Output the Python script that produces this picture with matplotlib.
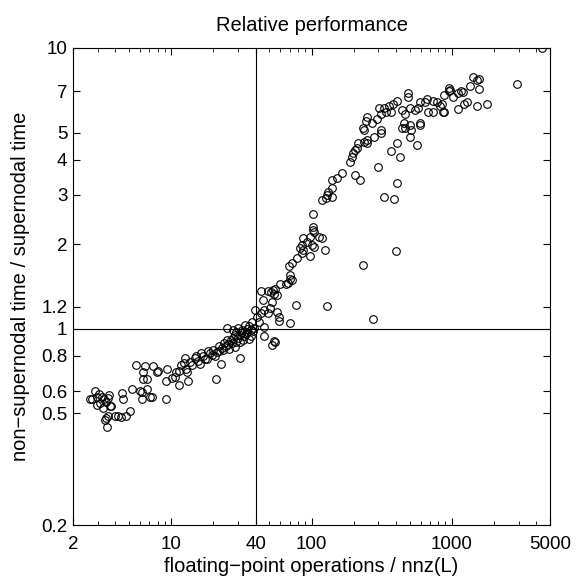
import matplotlib
matplotlib.use("Agg")
import matplotlib.pyplot as plt
from matplotlib.ticker import FixedLocator, NullLocator, LogLocator, NullFormatter

plt.rcParams['font.family'] = ['Liberation Sans', 'DejaVu Sans']

# flops / nnz(L) and time ratio for each matrix
left_x = [2.73, 2.88, 3.07, 3.2, 2.95, 3.3, 3.44, 3.6, 3.27, 3.73, 3.44, 3.56, 3.47, 3.99,
          4.2, 4.43, 4.77, 5.1, 4.5, 4.55, 5.3, 5.6, 6.5, 6.3, 6.3, 6.7, 6.0, 6.2, 6.7, 6.2,
          7.1, 7.3, 7.4, 8.1, 7.9, 9.3, 9.2, 9.2, 10.1, 10.6, 10.9, 11.4, 11.4, 12.5, 12.3,
          13.2, 2.65, 3.38, 21, 30.7, 22.6, 2.95, 3.56, 3.1, 3.65]
left_y = [0.56, 0.60, 0.585, 0.57, 0.535, 0.56, 0.55, 0.58, 0.52, 0.53, 0.48, 0.49, 0.447, 0.49,
          0.49, 0.485, 0.49, 0.51, 0.59, 0.56, 0.61, 0.74, 0.735, 0.70, 0.66, 0.66, 0.60, 0.596,
          0.61, 0.56, 0.57, 0.57, 0.735, 0.71, 0.70, 0.72, 0.65, 0.56, 0.67, 0.675, 0.70, 0.71,
          0.63, 0.79, 0.755, 0.65, 0.562, 0.475, 0.665, 0.79, 0.75, 0.573, 0.565, 0.545, 0.53]

mid_x = [13.6, 14.7, 16.4, 18.3, 19.5, 21.2, 23.1, 24.6, 25, 26.6, 24.9, 27.6, 29.2, 29.9,
         31.8, 33.7, 34.6, 36.8, 36.8, 37.8, 28.3, 31, 32.7, 35.6, 39.5, 40.6, 42.6, 46,
         43.9, 46, 48.6, 50.4, 44.9, 43.9, 48.6, 51.2, 54, 55.3, 52.6, 57, 58.9, 58.5, 46,
         54, 52.6, 55.3, 60, 66, 70, 78, 70, 129, 274, 233, 402,
         15.5, 17, 17.5, 19, 20, 20.5, 22, 22, 23.5, 24, 25.5, 26, 27, 27.5, 28.5, 29, 30,
         31, 32, 33, 34, 35, 36, 38, 39, 14, 15, 16, 18, 12.8, 11.8, 13]
mid_y = [0.76, 0.785, 0.82, 0.835, 0.805, 0.825, 0.855, 0.87, 0.915, 0.91, 1.01, 0.99, 0.97, 1.01,
         0.99, 1.03, 0.975, 0.99, 0.94, 1.06, 0.86, 0.895, 0.91, 0.92, 1.17, 1.10, 1.06, 1.015,
         1.14, 1.17, 1.14, 1.19, 1.27, 1.36, 1.36, 1.35, 1.33, 1.38, 1.25, 1.15, 1.10, 1.07, 0.94,
         0.905, 0.875, 0.895, 1.44, 1.44, 1.51, 1.22, 1.05, 1.21, 1.08, 1.69, 1.89,
         0.77, 0.80, 0.78, 0.82, 0.84, 0.80, 0.83, 0.87, 0.84, 0.89, 0.88, 0.85, 0.89, 0.93, 0.95,
         0.90, 0.93, 0.95, 0.97, 0.94, 0.96, 1.0, 1.02, 0.98, 1.01, 0.74, 0.80, 0.75, 0.78, 0.72,
         0.74, 0.70]

rise_x = [235, 216, 235, 247, 204, 198, 210, 193, 188, 204, 222, 165, 152, 140, 132, 129, 140,
          126, 119, 103, 103, 102, 105, 98, 114, 119, 87, 92.5, 101, 85, 82.5, 87, 105, 125, 97,
          85, 78.5, 72.5, 69.5, 70, 72.5, 68, 53, 57, 140]
rise_y = [5.1, 4.58, 4.63, 4.58, 4.34, 4.22, 4.4, 4.1, 3.94, 3.53, 3.39, 3.58, 3.44, 3.39, 3.08,
          2.99, 2.95, 2.92, 2.87, 2.57, 2.31, 2.25, 2.22, 2.13, 2.13, 2.10, 2.10, 2.04, 1.99, 1.99,
          1.94, 1.91, 1.96, 1.90, 1.81, 1.86, 1.78, 1.71, 1.67, 1.56, 1.49, 1.45, 1.37, 1.32, 3.17]

top_x = [490, 490, 404, 380, 358, 330, 305, 313, 340, 370, 292, 270, 247, 243, 232, 313, 313,
         278, 247, 300, 370, 405, 430, 405, 331, 384,
         441, 465, 453, 441, 465, 502, 515, 502, 563, 593, 593, 593, 502, 548, 578, 663, 645,
         737, 779, 680, 737, 824, 872, 872, 950, 950,
         4400, 2930, 1425, 1500, 1560, 1340, 1550, 1160, 1195, 1100, 970, 1020, 850, 860, 1280,
         1220, 1100, 1520, 1790]
top_y = [6.9, 6.7, 6.5, 6.3, 6.2, 6.1, 6.1, 5.8, 5.9, 5.9, 5.6, 5.4, 5.7, 5.5, 5.2, 5.1, 5.0,
         4.8, 4.7, 3.77, 4.3, 4.6, 4.1, 3.3, 2.94, 2.89,
         6.0, 5.8, 5.4, 5.2, 5.2, 5.3, 5.1, 4.8, 4.5, 5.4, 5.3, 6.4, 6.1, 6.0, 6.1, 6.6, 6.4,
         6.5, 6.4, 5.9, 5.9, 6.2, 5.9, 6.8, 7.0, 7.2,
         10.0, 7.45, 7.9, 7.7, 7.75, 7.35, 7.15, 7.0, 6.95, 6.9, 7.1, 6.7, 6.3, 5.93, 6.4,
         6.3, 6.06, 6.23, 6.3]

flops_per_nnz = left_x + mid_x + rise_x + top_x
time_ratio = left_y + mid_y + rise_y + top_y

x_ticks = [2, 10, 40, 100, 1000, 5000]
y_ticks = [0.2, 0.5, 0.6, 0.8, 1, 1.2, 2, 3, 4, 5, 7, 10]

fig = plt.figure(figsize=(5.76, 5.8), dpi=100)
ax = fig.add_axes([73 / 576, 55 / 580, 477 / 576, 477 / 580])

ax.plot(flops_per_nnz, time_ratio, 'o', mfc='none', mec='black', ms=5.5, mew=0.8)
ax.axvline(40, color='black', lw=0.8)
ax.axhline(1, color='black', lw=0.8)

ax.set_xscale('log')
ax.set_yscale('log')
ax.set_xlim(2, 5000)
ax.set_ylim(0.2, 10)

ax.xaxis.set_major_locator(FixedLocator(x_ticks))
ax.set_xticklabels([str(t) for t in x_ticks])
ax.xaxis.set_minor_locator(LogLocator(base=10, subs=range(2, 10)))
ax.xaxis.set_minor_formatter(NullFormatter())
ax.yaxis.set_major_locator(FixedLocator(y_ticks))
ax.set_yticklabels([f'{t:g}' for t in y_ticks])
ax.yaxis.set_minor_locator(NullLocator())

ax.tick_params(which='both', direction='in', top=True, right=True, labelsize=13.5)
ax.tick_params(which='major', length=5)
ax.tick_params(which='minor', length=3)
ax.tick_params(axis='x', which='major', pad=8)
ax.tick_params(axis='y', which='major', pad=4)
for s in ax.spines.values():
    s.set_linewidth(0.8)

ax.set_title('Relative performance', fontsize=14.5, pad=12)
ax.set_xlabel('floating\u2212point operations / nnz(L)', fontsize=14.5, labelpad=3)
ax.set_ylabel('non\u2212supernodal time / supernodal time', fontsize=14.5, labelpad=8)

fig.savefig('out.png', dpi=100)
